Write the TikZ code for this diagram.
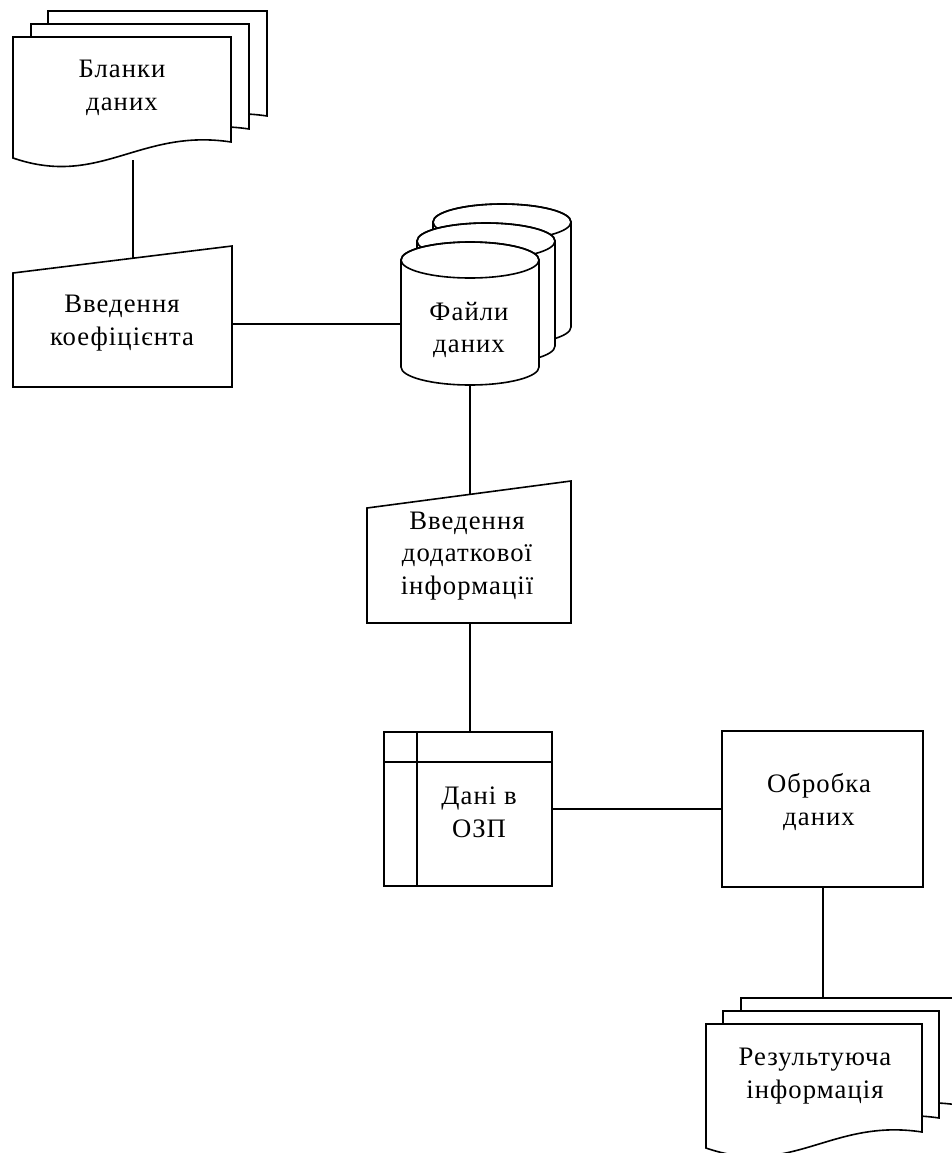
\documentclass[tikz,border=0pt]{standalone}
\usepackage{fontspec}
\setmainfont{Liberation Serif}[LetterSpace=4]
\begin{document}
\begin{tikzpicture}[x=0.75pt,y=-0.75pt,
  shapeline/.style={draw=black,line width=1.2pt,fill=white},
  conn/.style={draw=black,line width=1.2pt},
  lbl/.style={align=center,font=\fontsize{20}{24.5}\selectfont,inner sep=0pt}]
\clip (0,0) rectangle (952,1153);
\fill[white] (0,0) rectangle (952,1153);
% ---------- document stack macro
\newcommand{\docpage}[4]{% L, T, W, H
  \path[shapeline] (#1,#2) -- ({#1+#3},#2) -- ({#1+#3},{#2+#4-16})
    .. controls ({#1+0.58*#3},{#2+#4-30}) and ({#1+0.40*#3},{#2+#4+30}) .. (#1,{#2+#4}) -- cycle;}
% Бланки даних
\docpage{48}{11}{219}{121}
\docpage{31}{24}{218}{121}
\docpage{13}{37}{218}{121}
\node[lbl] (blank) at (122,88) {Бланки\\даних};
\coordinate (blank-b) at (133,160);
% Введення коефіцієнта
\path[shapeline] (13,273) -- (232,246) -- (232,387) -- (13,387) -- cycle;
\node[lbl] (koef) at (122,323) {Введення\\коефіцієнта};
\coordinate (koef-t) at (133,258);
\coordinate (koef-r) at (232,324);
% Файли даних (cylinders)
\newcommand{\cyl}[3]{% cx, top center y, bottom center y
  \path[shapeline] ({#1-69},#2) -- ({#1-69},#3) arc[start angle=180,end angle=360,x radius=51.75pt,y radius=13.5pt]
    -- ({#1+69},#2) arc[start angle=0,end angle=180,x radius=51.75pt,y radius=13.5pt] -- cycle;
  \draw[line width=1.2pt] (#1,#2) ellipse[x radius=51.75pt,y radius=13.5pt];}
\cyl{502}{222}{327}
\cyl{486}{241}{346}
\cyl{470}{260}{367}
\node[lbl] (files) at (469,330) {Файли\\даних};
\coordinate (files-l) at (401,324);
\coordinate (files-b) at (470,385);
% Введення додаткової інформації
\path[shapeline] (367,508) -- (571,481) -- (571,623) -- (367,623) -- cycle;
\node[lbl] (dodat) at (467,556) {Введення\\додаткової\\інформації};
\coordinate (dodat-t) at (470,494);
\coordinate (dodat-b) at (470,623);
% Дані в ОЗП
\path[shapeline] (384,732) rectangle (552,886);
\draw[line width=1.2pt] (417,732) -- (417,886);
\draw[line width=1.2pt] (384,762) -- (552,762);
\node[lbl] (ozp) at (479,812) {Дані в\\ОЗП};
\coordinate (ozp-t) at (470,732);
\coordinate (ozp-r) at (552,809);
% Обробка даних
\path[shapeline] (722,731) rectangle (923,887);
\node[lbl] (obr) at (819,802) {Обробка\\даних};
\coordinate (obr-l) at (722,809);
\coordinate (obr-b) at (823,887);
% Результуюча інформація
\docpage{741}{998}{217}{123}
\docpage{723}{1011}{216}{123}
\docpage{706}{1024}{216}{124}
\node[lbl] (res) at (815,1076) {Результуюча\\інформація};
\coordinate (res-t) at (823,998);
% connectors
\draw[conn] (blank-b) -- (koef-t);
\draw[conn] (koef-r) -- (files-l);
\draw[conn] (files-b) -- (dodat-t);
\draw[conn] (dodat-b) -- (ozp-t);
\draw[conn] (ozp-r) -- (obr-l);
\draw[conn] (obr-b) -- (res-t);
\end{tikzpicture}
\end{document}
